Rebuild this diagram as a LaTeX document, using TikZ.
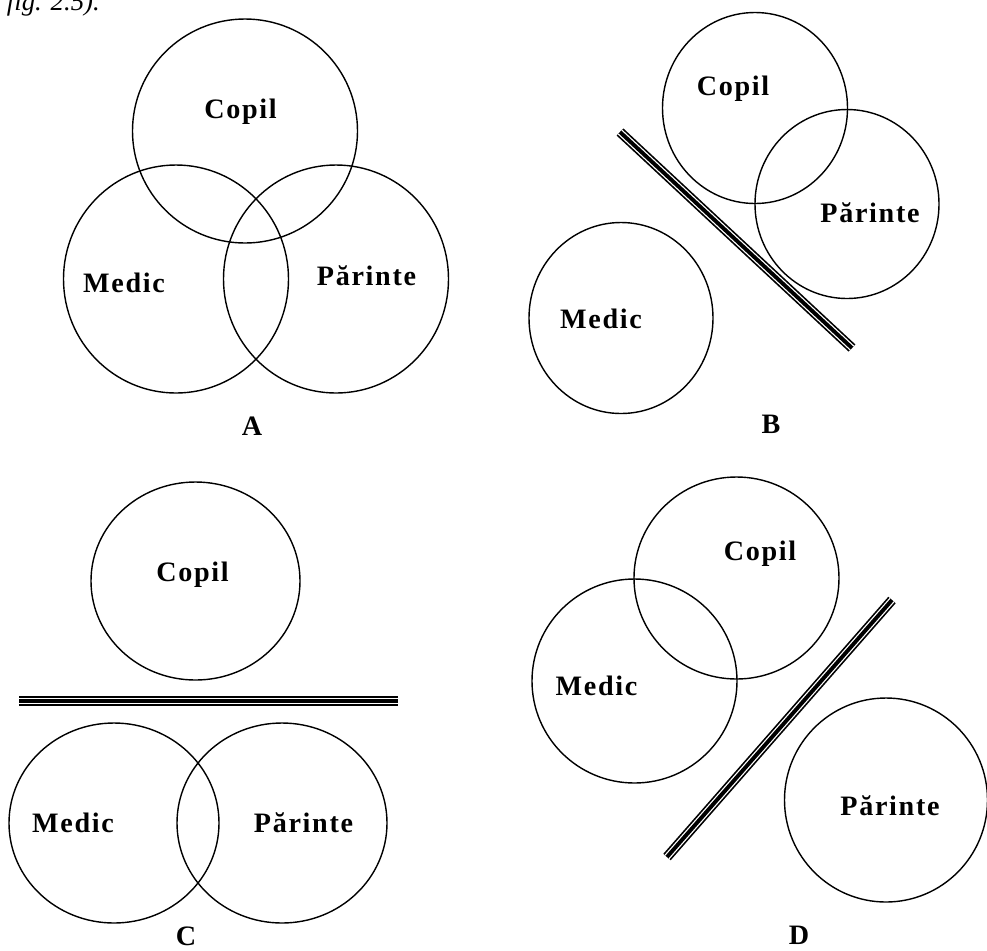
\documentclass[tikz,border=0pt]{standalone}
\usepackage{fontspec}
\setmainfont{Liberation Serif}
\newfontfamily\labelfont[LetterSpace=6]{Liberation Serif}
\usepackage{tikz}
\usetikzlibrary{positioning, calc}

\begin{document}
\begin{tikzpicture}[x=0.025cm, y=-0.025cm,
    ring/.style={draw, line width=1pt},
    lbl/.style={anchor=base, inner sep=0pt, font=\labelfont\bfseries\fontsize{20}{22}\selectfont},
    barrier/.style={line width=2.8pt, preaction={draw, line width=7pt}, preaction={draw=white, line width=4.6pt}}]

    \useasboundingbox (0,0) rectangle (987,950);

    % caption fragment
    \node[anchor=base east, inner sep=0pt, font=\itshape\fontsize{19}{20}\selectfont] (caption) at (100,10) {fig. 2.5).};

    % Panel A
    \draw[ring] (245,131) ellipse [x radius=112.5, y radius=112];
    \draw[ring] (176,279) ellipse [x radius=112.5, y radius=114];
    \draw[ring] (336,279) ellipse [x radius=112.5, y radius=114];
    \node[lbl] (a_copil) at (240.5,118) {Copil};
    \node[lbl] (a_medic) at (124,292) {Medic};
    \node[lbl] (a_parinte) at (366.5,285) {Părinte};
    \node[lbl] (a_tag) at (252,435) {A};

    % Panel B
    \draw[ring] (755,108) ellipse [x radius=92.5, y radius=95.5];
    \draw[ring] (847,204) ellipse [x radius=92, y radius=94.5];
    \draw[ring] (621,318) ellipse [x radius=92, y radius=95.5];
    \coordinate (b_from) at (620,132);
    \coordinate (b_to) at (852,348);
    \draw[barrier] (b_from) -- (b_to);
    \node[lbl] (b_copil) at (733,95) {Copil};
    \node[lbl] (b_parinte) at (870,222) {Părinte};
    \node[lbl] (b_medic) at (601,328) {Medic};
    \node[lbl] (b_tag) at (771,433) {B};

    % Panel C
    \draw[ring] (195.5,581) ellipse [x radius=104.5, y radius=99];
    \draw[ring] (114,823) ellipse [x radius=105, y radius=100];
    \draw[ring] (282,823) ellipse [x radius=105, y radius=100];
    \coordinate (c_from) at (19,701);
    \coordinate (c_to) at (398,701);
    \draw[barrier] (c_from) -- (c_to);
    \node[lbl] (c_copil) at (192.5,581) {Copil};
    \node[lbl] (c_medic) at (73,832) {Medic};
    \node[lbl] (c_parinte) at (303.5,832) {Părinte};
    \node[lbl] (c_tag) at (186,945) {C};

    % Panel D
    \draw[ring] (736.5,578) ellipse [x radius=102.5, y radius=101];
    \draw[ring] (634.5,681) ellipse [x radius=102.5, y radius=102];
    \draw[ring] (886,800) ellipse [x radius=101.5, y radius=102];
    \coordinate (d_from) at (667,857);
    \coordinate (d_to) at (892,600);
    \draw[barrier] (d_from) -- (d_to);
    \node[lbl] (d_copil) at (760,560) {Copil};
    \node[lbl] (d_medic) at (596.5,695) {Medic};
    \node[lbl] (d_parinte) at (890,815) {Părinte};
    \node[lbl] (d_tag) at (799,944) {D};
\end{tikzpicture}
\end{document}
